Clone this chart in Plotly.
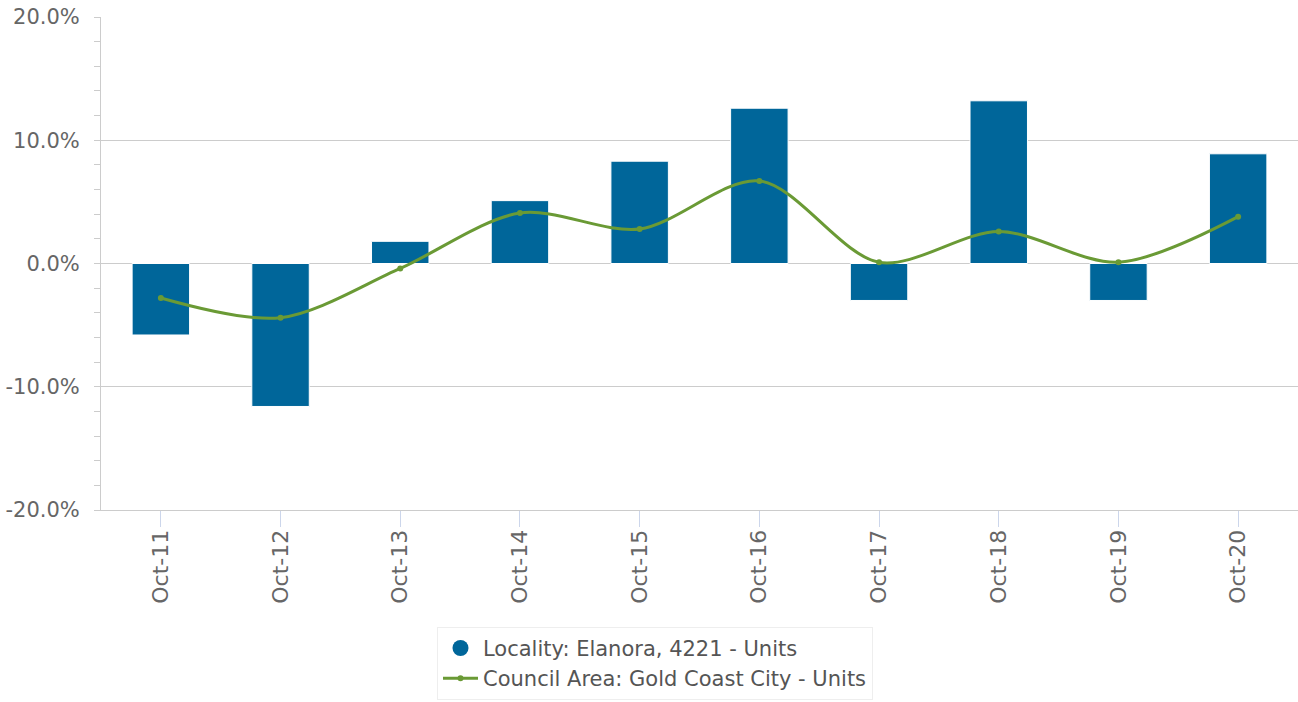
import plotly.graph_objects as go

# Annual change in median value, units
periods = ["Oct-11", "Oct-12", "Oct-13", "Oct-14", "Oct-15",
           "Oct-16", "Oct-17", "Oct-18", "Oct-19", "Oct-20"]
locality_change = [-5.8, -11.6, 1.8, 5.1, 8.3, 12.6, -3.0, 13.2, -3.0, 8.9]
council_change = [-2.8, -4.4, -0.4, 4.1, 2.8, 6.7, 0.1, 2.6, 0.1, 3.8]

y_tick_values = [-20, -10, 0, 10, 20]
y_tick_labels = ["-20.0%", "-10.0%", "0.0%", "10.0%", "20.0%"]

locality_name = "Locality: Elanora, 4221 - Units"
council_name = "Council Area: Gold Coast City - Units"

blue = "#00669a"
green = "#6a9a35"
grid = "#cccccc"
text_grey = "#666666"

fig = go.Figure()

fig.add_trace(go.Bar(
    x=periods,
    y=locality_change,
    name=locality_name,
    marker=dict(color=blue, line=dict(color="white", width=1)),
    width=0.48,
    showlegend=False,
    hovertemplate="%{x}: %{y:.1f}%<extra></extra>",
))

# legend-only entry so the locality shows as a round dot
fig.add_trace(go.Scatter(
    x=[None], y=[None],
    mode="markers",
    name=locality_name,
    marker=dict(color=blue, size=20, symbol="circle"),
))

fig.add_trace(go.Scatter(
    x=periods,
    y=council_change,
    name=council_name,
    mode="lines+markers",
    line=dict(color=green, width=3, shape="spline", smoothing=0.9),
    marker=dict(color=green, size=6),
    hovertemplate="%{x}: %{y:.1f}%<extra></extra>",
))

fig.update_layout(
    width=1298,
    height=702,
    margin=dict(l=101, r=0, t=17, b=192),
    plot_bgcolor="white",
    paper_bgcolor="white",
    font=dict(family="DejaVu Sans", size=21, color=text_grey),
    showlegend=True,
    legend=dict(
        x=0.2807, y=-0.237, xanchor="left", yanchor="top",
        bgcolor="white", bordercolor="#eeeeee", borderwidth=1,
        itemwidth=35,
        font=dict(size=21, color="#555555"),
    ),
)

fig.update_xaxes(
    type="category",
    range=[-0.5, 9.5],
    automargin=False,
    showgrid=False,
    showline=True, linecolor=grid, linewidth=1,
    ticks="outside", ticklen=16, tickcolor="#ccd6eb", tickwidth=1,
    tickangle=-90,
    ticklabelstandoff=-6,
    tickfont=dict(size=22, color=text_grey),
)

fig.update_yaxes(
    range=[-20, 20],
    automargin=False,
    tickmode="array",
    tickvals=y_tick_values,
    ticktext=y_tick_labels,
    showgrid=True, gridcolor=grid, gridwidth=1,
    zeroline=False,
    showline=True, linecolor=grid, linewidth=1,
    ticks="outside", ticklen=6, tickcolor=grid,
    minor=dict(dtick=2, ticks="outside", ticklen=6, tickcolor=grid, showgrid=False),
    ticklabelstandoff=10,
    tickfont=dict(size=21, color=text_grey),
)

# drop the browser's default body margin so the figure sits at the page corner
fig.write_html(
    "out.html",
    config={"displayModeBar": False},
    post_script="document.body.style.margin='0';",
)
